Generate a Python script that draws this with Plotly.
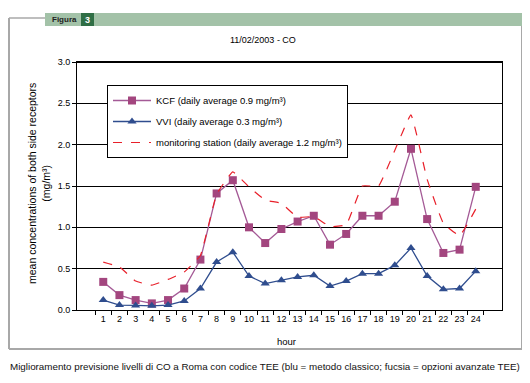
import plotly.graph_objects as go

hours = [str(h) for h in range(1, 25)]
kcf = [0.34, 0.18, 0.12, 0.08, 0.12, 0.26, 0.61, 1.41, 1.57, 1.00, 0.81, 0.98,
       1.07, 1.14, 0.79, 0.92, 1.14, 1.14, 1.31, 1.95, 1.10, 0.69, 0.73, 1.49]
vvi = [0.12, 0.06, 0.055, 0.05, 0.06, 0.11, 0.26, 0.58, 0.70, 0.41, 0.32, 0.36,
       0.40, 0.42, 0.29, 0.35, 0.44, 0.44, 0.54, 0.75, 0.41, 0.25, 0.26, 0.47]
station = [0.58, 0.52, 0.35, 0.30, 0.37, 0.46, 0.66, 1.40, 1.67, 1.49, 1.33, 1.29,
           1.12, 1.13, 1.01, 1.03, 1.50, 1.50, 1.93, 2.36, 1.58, 1.05, 0.90, 1.22]
yticks = [0.0, 0.5, 1.0, 1.5, 2.0, 2.5, 3.0]

# page body has an 8px default margin; work in reference pixel coords and shift
O = 8
W, H = 530 - O, 383 - O
L, R, T, B = 77 - O, 502 - O, 62 - O, 310 - O

def px(x):
    return (x - O - L) / (R - L)

def py(y):
    return (B - (y - O)) / (B - T)

FONT = "Liberation Sans, Arial, sans-serif"

fig = go.Figure()
fig.add_trace(go.Scatter(
    x=hours, y=kcf, mode="lines+markers",
    name="KCF (daily average 0.9 mg/m³)",
    line=dict(color="#A45A96", width=1.3),
    marker=dict(symbol="square", size=8, color="#A3467F"),
    legendgroup="a"))
fig.add_trace(go.Scatter(
    x=hours, y=vvi, mode="lines+markers",
    name="VVI (daily average 0.3 mg/m³)",
    line=dict(color="#2F4D8E", width=1.3),
    marker=dict(symbol="triangle-up", size=8, color="#2F4D8E"),
    legendgroup="b"))
fig.add_trace(go.Scatter(
    x=hours, y=station, mode="lines",
    name="monitoring station (daily average 1.2 mg/m³)",
    line=dict(color="#E8202A", width=1.2, dash="dash", shape="spline", smoothing=0.3),
    legendgroup="c"))

fig.update_layout(
    width=W, height=H,
    margin=dict(l=L, r=W - R, t=T, b=H - B, pad=0),
    paper_bgcolor="white", plot_bgcolor="white",
    font=dict(family=FONT, size=9, color="black"),
    showlegend=True,
    legend=dict(x=px(107), y=py(85), xanchor="left", yanchor="top",
                bordercolor="black", borderwidth=1, bgcolor="white",
                font=dict(size=9.5), tracegroupgap=2, itemwidth=38),
    xaxis=dict(type="category", tickson="boundaries", ticks="outside", ticklen=4,
               tickcolor="black", showline=True, linecolor="black", linewidth=1,
               mirror=True, showgrid=False, zeroline=False, tickangle=0,
               tickfont=dict(size=9)),
    yaxis=dict(range=[0, 3.0], tickvals=yticks,
               ticktext=[f"{v:.1f}" for v in yticks],
               ticks="outside", ticklen=4, tickcolor="black",
               showline=True, linecolor="black", linewidth=1, mirror=True,
               showgrid=True, gridcolor="black", gridwidth=1, zeroline=False,
               tickfont=dict(size=9)),
)

shapes = []
# outer frame (gray)
shapes.append(dict(type="line", xref="paper", yref="paper", x0=px(9), x1=px(9),
                   y0=py(18), y1=py(349), line=dict(color="#A8A8A8", width=2)))
shapes.append(dict(type="line", xref="paper", yref="paper", x0=px(9), x1=px(45),
                   y0=py(18), y1=py(18), line=dict(color="#A8A8A8", width=1.5)))
shapes.append(dict(type="line", xref="paper", yref="paper", x0=px(522), x1=px(522),
                   y0=py(26), y1=py(349), line=dict(color="#A8A8A8", width=2)))
shapes.append(dict(type="line", xref="paper", yref="paper", x0=px(9), x1=px(522),
                   y0=py(349), y1=py(349), line=dict(color="#A8A8A8", width=2)))
# header band
shapes.append(dict(type="rect", xref="paper", yref="paper", x0=px(45), x1=px(531),
                   y0=py(26), y1=py(13), fillcolor="#A3C2A8", line=dict(width=0)))
shapes.append(dict(type="rect", xref="paper", yref="paper", x0=px(81), x1=px(94),
                   y0=py(26), y1=py(13), fillcolor="#2F6E45", line=dict(width=0)))
# thicker top line
shapes.append(dict(type="line", xref="paper", yref="paper", x0=0, x1=1,
                   y0=1, y1=1, line=dict(color="black", width=2)))
fig.update_layout(shapes=shapes)

ann = []
ann.append(dict(text="<b>Figura</b>", x=px(50), y=py(19.5), xref="paper", yref="paper",
                xanchor="left", yanchor="middle", showarrow=False,
                font=dict(size=8, color="#222222", family=FONT)))
ann.append(dict(text="<b>3</b>", x=px(87.5), y=py(19.5), xref="paper", yref="paper",
                xanchor="center", yanchor="middle", showarrow=False,
                font=dict(size=9, color="white", family=FONT)))
ann.append(dict(text="11/02/2003 - CO", x=px(263), y=py(40), xref="paper", yref="paper",
                xanchor="center", yanchor="middle", showarrow=False,
                font=dict(size=9)))
ann.append(dict(text="mean concentrations of both side receptors<br>(mg/m³)",
                x=px(39), y=py(184), xref="paper", yref="paper", textangle=-90,
                xanchor="center", yanchor="middle", showarrow=False,
                font=dict(size=10.5)))
ann.append(dict(text="hour", x=px(286), y=py(341), xref="paper", yref="paper",
                xanchor="center", yanchor="middle", showarrow=False,
                font=dict(size=9.5)))
ann.append(dict(text="Miglioramento previsione livelli di CO a Roma con codice TEE (blu = metodo classico; fucsia = opzioni avanzate TEE)",
                x=px(8), y=py(366), xref="paper", yref="paper",
                xanchor="left", yanchor="middle", showarrow=False,
                font=dict(size=9.8, color="#111111")))
fig.update_layout(annotations=ann)

fig.write_html("out.html")
